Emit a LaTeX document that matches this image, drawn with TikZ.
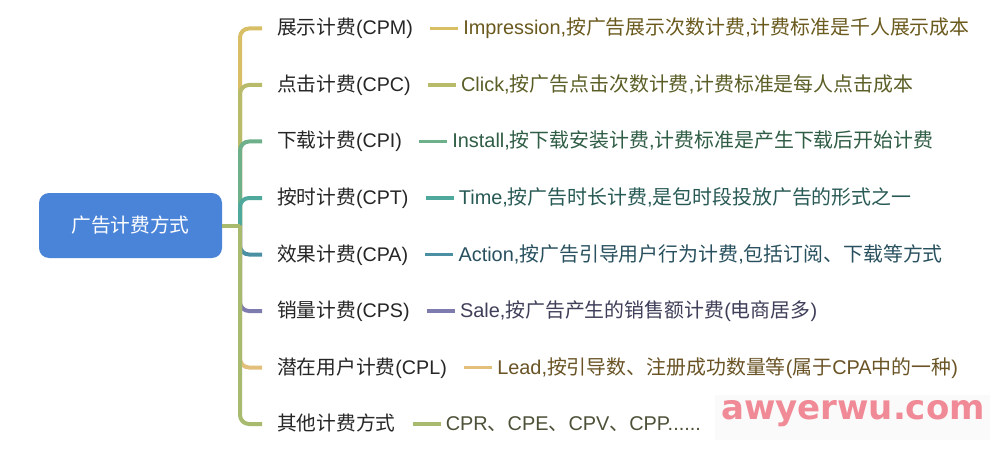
\documentclass[tikz,border=0pt]{standalone}
\usepackage{fontspec}
\setmainfont{Noto Sans CJK SC}
\newfontfamily\lat{Liberation Sans}
\newfontfamily\wmfont{DejaVu Sans}
\definecolor{rootblue}{HTML}{4A84D8}
\definecolor{childtext}{HTML}{262626}
\definecolor{bA}{HTML}{D8BE64}
\definecolor{bB}{HTML}{B8BC6A}
\definecolor{bC}{HTML}{6DB089}
\definecolor{bD}{HTML}{4FA89C}
\definecolor{bE}{HTML}{4A8FA2}
\definecolor{bF}{HTML}{7E7CAE}
\definecolor{bG}{HTML}{E2C07A}
\definecolor{bH}{HTML}{A8BA6E}
\definecolor{tA}{HTML}{6B5A1E}
\definecolor{tB}{HTML}{5B5E26}
\definecolor{tC}{HTML}{2F5D45}
\definecolor{tD}{HTML}{285A55}
\definecolor{tE}{HTML}{28505E}
\definecolor{tF}{HTML}{3F3F5A}
\definecolor{tG}{HTML}{6A5426}
\definecolor{tH}{HTML}{4D5138}
\definecolor{wmpink}{HTML}{F08A96}
\tikzset{
  rootbox/.style={fill=rootblue, rounded corners=10pt, minimum width=183pt, minimum height=65pt, text=white, inner sep=0pt},
  childnode/.style={anchor=west, inner sep=0pt, text=childtext, text height=17pt, text depth=4pt},
  detailnode/.style={anchor=west, inner sep=0pt, text height=17pt, text depth=4pt, font=\fontsize{19.9}{22}\selectfont},
  branch/.style={line width=4pt, rounded corners=9pt},
  leafline/.style={line width=3.5pt},
}
\begin{document}
\begin{tikzpicture}[x=1pt,y=-1pt,font=\fontsize{19.7}{22}\selectfont]
\useasboundingbox (0,0) rectangle (1000,449);
\fill[white] (0,0) rectangle (1000,449);

\coordinate (j) at (240,225.5);

\node[childnode] (c1) at (277,28.5) {展示计费{\lat (CPM)}};
\node[childnode] (c2) at (277,85) {点击计费{\lat (CPC)}};
\node[childnode] (c3) at (277,141.5) {下载计费{\lat (CPI)}};
\node[childnode] (c4) at (277,198) {按时计费{\lat (CPT)}};
\node[childnode] (c5) at (277,254.5) {效果计费{\lat (CPA)}};
\node[childnode] (c6) at (277,311) {销量计费{\lat (CPS)}};
\node[childnode] (c7) at (277,367.5) {潜在用户计费{\lat (CPL)}};
\node[childnode] (c8) at (277,424) {其他计费方式};

\node[detailnode, text=tA] (d1) at ([xshift=50pt]c1.east) {{\lat Impression,}按广告展示次数计费{\lat ,}计费标准是千人展示成本};
\node[detailnode, text=tB] (d2) at ([xshift=50pt]c2.east) {{\lat Click,}按广告点击次数计费{\lat ,}计费标准是每人点击成本};
\node[detailnode, text=tC] (d3) at ([xshift=50pt]c3.east) {{\lat Install,}按下载安装计费{\lat ,}计费标准是产生下载后开始计费};
\node[detailnode, text=tD] (d4) at ([xshift=50pt]c4.east) {{\lat Time,}按广告时长计费{\lat ,}是包时段投放广告的形式之一};
\node[detailnode, text=tE] (d5) at ([xshift=50pt]c5.east) {{\lat Action,}按广告引导用户行为计费{\lat ,}包括订阅、下载等方式};
\node[detailnode, text=tF] (d6) at ([xshift=50pt]c6.east) {{\lat Sale,}按广告产生的销售额计费{\lat (}电商居多{\lat )}};
\node[detailnode, text=tG] (d7) at ([xshift=50pt]c7.east) {{\lat Lead,}按引导数、注册成功数量等{\lat (}属于{\lat CPA}中的一种{\lat )}};
\node[detailnode, text=tH] (d8) at ([xshift=50pt]c8.east) {{\lat CPR}、{\lat CPE}、{\lat CPV}、{\lat CPP......}};

\foreach \i/\c in {1/bA,2/bB,3/bC,4/bD,5/bE,6/bF,7/bG,8/bH}{
  \draw[branch, draw=\c] (j) |- ([xshift=-15pt]c\i.west);
  \draw[leafline, draw=\c] ([xshift=17pt]c\i.east) -- ([xshift=-5pt]d\i.west);
}

\node[rootbox] (root) at (130.5,225.5) {广告计费方式};
\draw[line width=4pt, draw=bH] (root.east) -- (j);

\fill[gray!4] (715,395) rectangle (990,440);
\node[text=wmpink, font=\wmfont\bfseries\fontsize{34}{36}\selectfont, inner sep=0pt] (wm) at (853,414) {awyerwu.com};
\end{tikzpicture}
\end{document}
